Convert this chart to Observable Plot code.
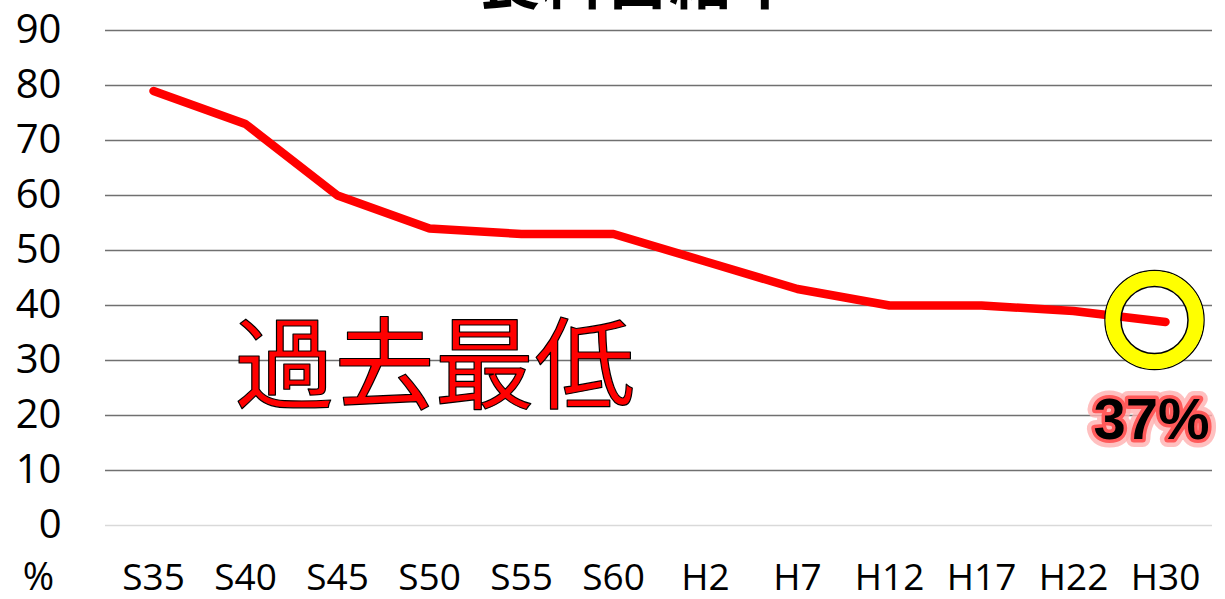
<!DOCTYPE html>
<html><head><meta charset="utf-8">
<script src="https://cdn.jsdelivr.net/npm/d3@7"></script>
<script src="https://cdn.jsdelivr.net/npm/@observablehq/plot@0.6"></script>
<style>
html,body{margin:0;padding:0;background:#fff;overflow:hidden;}
svg{display:block;}
</style>
</head><body>
<div id="chart"></div>
<script>
const years = ["S35","S40","S45","S50","S55","S60","H2","H7","H12","H17","H22","H30"];
const rates = [79, 73, 60, 54, 53, 53, 48, 43, 40, 40, 39, 37];
const yTicks = [0,10,20,30,40,50,60,70,80,90];
const title = "食料自給率";
const note = "過去最低";
const lastLabel = "37%";

const data = years.map((y, i) => ({year: y, rate: rates[i]}));
const last = data[data.length - 1];

const chart = Plot.plot({
  width: 1225,
  height: 599,
  marginTop: 30,
  marginBottom: 74,
  marginLeft: 105,
  marginRight: 13,
  style: {fontFamily: "'Open Sans', sans-serif", background: "#fff", overflow: "visible"},
  x: {type: "band", domain: years, padding: 0, label: null, tickSize: 0, tickPadding: 38},
  y: {domain: [0, 90], ticks: yTicks, label: null, tickSize: 0, tickPadding: 44},
  marks: [
    Plot.ruleY(yTicks.filter(d => d > 0), {stroke: "#707070", strokeWidth: 1.3}),
    Plot.ruleY([0], {stroke: "#d9d9d9", strokeWidth: 1.3}),
    Plot.axisX({tickSize: 0, tickPadding: 38, fontSize: 37, fontFamily: "'Liberation Sans Narrow', 'Open Sans', sans-serif", fill: "#000"}),
    Plot.axisY({ticks: yTicks, tickSize: 0, tickPadding: 44, fontSize: 40, fontFamily: "'Open Sans', sans-serif", fill: "#000"}),
    Plot.line(data, {x: "year", y: "rate", stroke: "#ff0000", strokeWidth: 8.5, strokeLinecap: "round", strokeLinejoin: "miter"}),
    Plot.dot([last], {x: "year", y: "rate", r: 49.5, dx: -11, dy: -2, fill: "none", stroke: "#000", strokeWidth: 1.5}),
    Plot.dot([last], {x: "year", y: "rate", r: 41.5, dx: -11, dy: -2, fill: "none", stroke: "#ffff00", strokeWidth: 15}),
    Plot.dot([last], {x: "year", y: "rate", r: 33.5, dx: -11, dy: -2, fill: "none", stroke: "#000", strokeWidth: 1.5}),
    Plot.text([note], {x: () => "S50", y: () => 28.5, dx: 5, text: d => d, fontSize: 100, fontFamily: "'Noto Sans CJK JP', sans-serif", fill: "#ff0000", stroke: "#000", strokeWidth: 1.2, paintOrder: "fill"}),
    Plot.text([lastLabel], {x: () => "H30", y: () => 20, dx: -14, dy: 5, text: d => d, fontSize: 58, fontWeight: "bold", fontFamily: "'Liberation Sans', sans-serif", fill: "none", stroke: "#ffb0b0", strokeWidth: 16, strokeLinejoin: "round", strokeOpacity: 0.8}),
    Plot.text([lastLabel], {x: () => "H30", y: () => 20, dx: -14, dy: 5, text: d => d, fontSize: 58, fontWeight: "bold", fontFamily: "'Liberation Sans', sans-serif", fill: "none", stroke: "#ff5a5a", strokeWidth: 7, strokeLinejoin: "round"}),
    Plot.text([lastLabel], {x: () => "H30", y: () => 20, dx: -14, dy: 5, text: d => d, fontSize: 58, fontWeight: "bold", fontFamily: "'Liberation Sans', sans-serif", fill: "#000"}),
    Plot.text(["%"], {x: () => "S35", y: () => 0, dx: -115, dy: 52, text: d => d, fontSize: 38, fontFamily: "'Open Sans', sans-serif", fill: "#000"}),
    Plot.text([title], {frameAnchor: "top", dx: -22, dy: -28, lineAnchor: "bottom", text: d => d, fontSize: 64, fontWeight: "bold", fontFamily: "'Noto Sans CJK JP', sans-serif", fill: "#000"})
  ]
});
document.getElementById("chart").appendChild(chart);
</script>
</body></html>
